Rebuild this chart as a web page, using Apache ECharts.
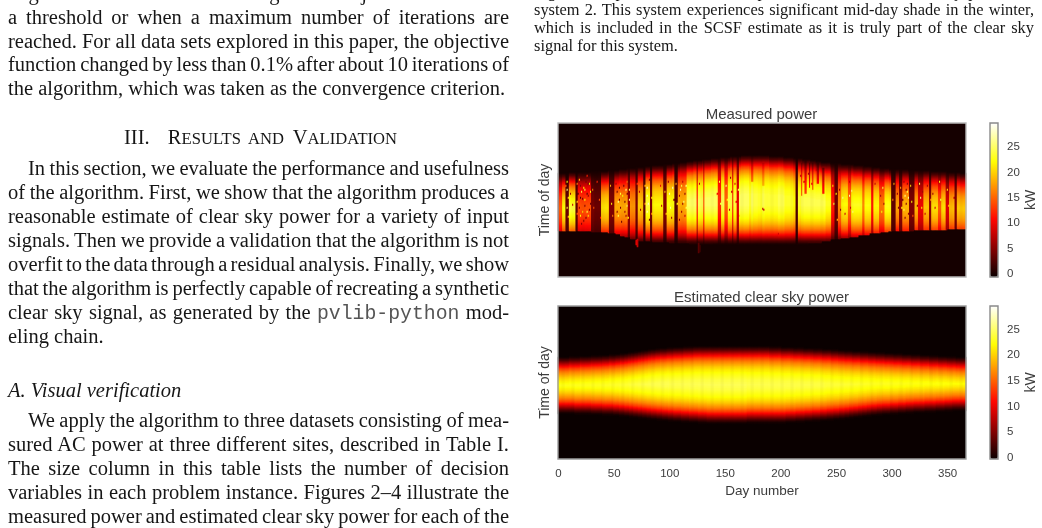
<!DOCTYPE html>
<html>
<head>
<meta charset="utf-8">
<title>Measured and estimated clear sky power</title>
<script src="https://cdn.jsdelivr.net/npm/echarts@6/dist/echarts.min.js"></script>
<style>
  html, body { margin: 0; padding: 0; background: #fff; overflow: hidden; }
  #page { position: relative; width: 1042px; height: 528px; overflow: hidden; }
  #chart { position: absolute; left: 0; top: 0; width: 1042px; height: 528px; }
  .ln { position: absolute; white-space: nowrap; color: #161616; font-family: "Liberation Serif", serif; }
  .body { font-size: 20.5px; line-height: 24px; height: 24px; left: 8px; }
  .cap { font-size: 16.4px; line-height: 18px; height: 18px; left: 534px; }
  code { font-family: "Liberation Mono", monospace; font-size: 19.8px; color: #555; }
  .sc { font-size: 16.6px; }
</style>
</head>
<body>
<div id="page">
  <div id="chart"></div>
</div>
<script>
// Axis layout of the two panels
const dayNumbers = Array.from({ length: 367 }, (_, d) => String(d));
const timeRows = Array.from({ length: 154 }, (_, r) => String(r));
const dayTickStep = 50;
const kwTicks = [0, 5, 10, 15, 20, 25];

// Sunrise and sunset rows: [first day the value holds, row]
const measuredRise = [[0,50],[10,49],[30,48],[45,47],[55,46],[62,45],[70,44],[78,43],[85,42],[95,41],[103,40],[110,39],[116,38],[122,37],[130,36],[138,35],[146,34],[155,33],[165,32],[190,33],[203,34],[212,35],[220,36],[227,37],[232,38],[237,39],[245,40],[255,41],[266,42],[275,43],[283,44],[290,45],[298,46],[315,47],[335,48],[350,49],[362,50]];
const measuredSet = [[0,121]];
// Last unshaded row before the horizon cuts the array off
const measuredHorizon = [[0,107],[30,108],[45,109],[52,110],[56,112],[60,113],[65,115],[72,117],[85,118],[100,119],[118,120],[140,121],[225,119],[237,117],[245,115],[254,114],[262,113],[270,111],[280,109],[290,108],[297,107],[320,106],[350,105]];
const measuredPeak = [[0,25],[60,25],[120,25],[180,24.5],[250,24],[300,24.5]];

const clearRise = [[0,51],[10,50.5],[20,50],[30,49.5],[40,49],[46,48.5],[52,48],[56,47.5],[60,47],[63,46.5],[66,46],[69,45.5],[72,45],[75,44.5],[78,44],[81,43.5],[84,43],[88,42.5],[92,42],[98,41.5],[104,41],[113,40.5],[122,40],[190,40.5],[201,41],[212,41.5],[221,42],[230,42.5],[238,43],[246,43.5],[252,44],[258,44.5],[265,45],[272,45.5],[279,46],[286,46.5],[294,47],[302,47.5],[310,48],[318,48.5],[326,49],[334,49.5],[342,50],[350,50.5],[358,51]];
const clearSet = [[0,107],[15,107.5],[30,108],[40,108.5],[50,109],[55,109.5],[60,110],[64,110.5],[68,111],[72,111.5],[76,112],[80,112.5],[84,113],[89,113.5],[94,114],[99,114.5],[104,115],[111,115.5],[118,116],[126,116.5],[134,117],[170,116.5],[205,116],[214,115.5],[222,115],[229,114.5],[236,114],[242,113.5],[248,113],[253,112.5],[258,112],[262,111.5],[266,111],[270,110.5],[274,110],[278,109.5],[282,109],[287,108.5],[292,108],[299,107.5],[306,107],[313,106.5],[320,106],[330,105.5],[340,105],[348,104.5],[355,104]];
const clearPeak = [[0,25],[100,24.8],[170,24.6],[240,24.4],[290,24.6],[340,24.8]];

// Share of the day's peak reached, per half row away from sunrise or sunset
const dayProfile = [0,.015,.03,.05,.07,.085,.1,.125,.15,.175,.2,.225,.25,.28,.31,.335,.36,.39,.42,.44,.46,.485,.51,.53,.55,.565,.58,.6,.62,.635,.65,.665,.68,.69,.7,.715,.73,.74,.75,.765,.78,.79,.8,.81,.82,.83,.84,.85,.86,.865,.87,.88,.89,.895,.9,.905,.91,.915,.92,.925,.93,.935,.94,.945,.95,.955,.96,.965,.97,.97,.97,.975,.98,.98,.98,.985,.99,.995,1];

// Overcast days: [from day, to day, share of clear output, optional first row, optional last row]
const cloudDays = [
  [0,1,.08],[1,4,.6],[4,7,.92],[7,10,.16],[10,16,.98],[16,18,.14],[18,30,.58],[30,33,.18],[33,39,.15],
  [39,46,.85],[46,51,.2],[51,63,.74],[63,65,.26],[65,70,.7],[70,72,.18],[72,77,.8],[77,79,.14],
  [79,83,.96],[83,85,.18],[85,95,.88],[95,98,.2],[98,105,.9],[105,108,.12],[108,116,.74],[116,125,1],
  [125,126,.45],[126,131,.98],[131,132,.55],[132,144,1],[144,147,.5],[147,150,.98],[150,153,.6],
  [153,157,.96],[157,158,.5],[158,161,.95],[161,163,.38],[163,172,1],[172,174,.94],[174,176,.72,30,58],
  [176,184,.96],[184,186,.82,40,62],[186,198,.97],[198,204,1],[204,212,.95],[212,214,.9],[214,216,.1],
  [216,219,.96],[219,220,.6,40,72],[222,224,.55,38,70],[226,227,.5,40,64],[229,230,.6,40,66],
  [233,235,.55,40,60],[238,240,.5,45,70],[241,246,.94],[246,249,.48],[249,252,.16],[252,255,.7],
  [255,261,.92],[261,264,.66],[264,274,.96],[274,276,.7],[276,282,.94],[282,284,.5],[284,289,.92],
  [289,294,.68],[294,300,.96],[300,304,.14],[304,307,.74],[307,310,.24],[310,316,.78],[316,321,.2],
  [321,324,.78],[324,329,.42],[329,334,.8],[334,336,.24],[336,342,.86],[342,345,.62],[345,349,.86],
  [349,352,.38],[352,357,.8],[357,359,.22],[359,367,.82]
];

// Single sample readings inside broken cloud: [day, row, kW]
const cloudSamples = [
  [8,58,22],[8,66,26],[9,74,20],[8,84,24],[9,93,18],[7,62,14],[11,70,6],[13,81,8],[17,60,16],[17,78,20],[17,90,14],
  [19,56,18],[20,62,5],[21,68,24],[22,75,4],[23,64,22],[24,82,5],[25,58,4],[26,88,24],[27,72,6],[28,60,20],[29,80,4],[20,92,22],[23,97,5],[26,52,12],
  [18,70,4],[19,84,6],[20,74,3],[21,56,4],[22,88,20],[24,66,24],[25,94,4],[26,70,3],[27,60,4],[28,86,5],[29,68,22],[21,100,5],[24,76,22],[27,92,20],
  [31,66,16],[32,84,14],[35,58,12],[37,76,14],[38,94,10],[47,62,18],[48,80,22],[49,92,16],
  [53,68,4],[54,78,26],[56,84,5],[54,92,24],[55,64,3],[58,72,22],[57,98,4],[60,88,6],[62,58,16],[62,70,5],[62,82,25],[63,94,22],[64,66,24],[64,76,26],[65,100,14],
  [52,60,6],[53,88,5],[55,76,5],[56,70,24],[59,62,4],[60,78,4],[61,66,26],[61,92,6],
  [71,60,12],[73,68,8],[74,86,6],[78,62,18],[78,80,16],[80,64,28],[80,72,28],[81,80,28],[80,88,28],[82,96,4],[82,56,6],[84,74,20],[84,90,16],
  [92,62,10],[93,82,8],[96,68,20],[97,90,18],[99,58,6],[100,70,28],[101,84,27],[102,94,6],[103,64,28],[104,76,5],[106,60,18],[107,80,22],[109,72,6],[110,66,27],[111,88,6],[112,58,8],[113,78,26],[114,92,8],[115,62,26],
  [109,96,5],[111,62,24],[112,80,6],[114,70,5],[115,84,24],
  [127,60,8],[143,70,10],[145,58,24],[146,80,24],[151,62,26],[152,76,22],[154,86,8],[155,54,6],[156,68,8],[159,60,9],[160,78,10],[162,66,24],[163,92,20],
  [184,85,8],[185,86,8],[198,110,9],[218,52,8],[221,58,9],[225,50,7],[228,60,10],[232,46,8],
  [247,62,20],[248,80,24],[250,70,22],[251,96,18],[253,66,6],[254,86,5],[256,74,26],[258,90,8],[262,58,8],[262,72,27],[263,84,8],[264,67,26],[265,88,26],
  [285,60,8],[290,72,7],[291,88,22],[292,64,24],[293,80,6],[301,76,16],[302,60,18],[305,70,6],[308,64,18],[309,84,22],[311,58,6],[312,72,26],[313,80,5],[314,68,24],[315,90,6],[317,62,20],[318,78,22],[319,92,14],
  [311,86,24],[313,66,5],[315,74,26],[312,94,5],[310,76,4],[314,60,6],[306,84,5],
  [322,56,8],[323,82,6],[325,60,24],[326,74,26],[327,84,22],[328,68,6],[330,90,8],[332,62,7],[335,76,16],[337,70,6],[339,84,8],[343,58,22],[344,76,24],[350,66,20],[351,82,18],[356,74,8]
];
// Short late afternoon streaks below the horizon line: [day, first row, last row, kW]
const lateStreaks = [[70,117,121,10],[71,116,123,8],[126,120,129,3],[127,122,128,2]];

const measuredRange = [-0.66, 29.8];
const clearRange = [-0.25, 29.55];

// Colour ramp running black, red, yellow, white at equal value steps
const hotRamp = ['#0b0000','#5e0000','#b20000','#ff0700','#ff5a00','#ffae00','#ffff04','#ffff82','#ffffff'];

const stepAt = (steps, day) => {
  let v = steps[0][1];
  for (const s of steps) { if (s[0] <= day) v = s[1]; else break; }
  return v;
};
const shareOfPeak = (rise, set, row) => {
  const dist = Math.min(row - rise, set - row);
  if (dist <= 0) return 0;
  return dayProfile[Math.min(Math.round(dist * 2), dayProfile.length - 1)];
};

// Clear sky estimate for every daylight cell
const clearCells = [];
dayNumbers.forEach((_, day) => {
  const rise = stepAt(clearRise, day), set = stepAt(clearSet, day), peak = stepAt(clearPeak, day);
  for (let row = Math.floor(rise); row <= Math.ceil(set); row++) {
    clearCells.push([day, row, peak * shareOfPeak(rise, set, row)]);
  }
});

// Measured output: clear sky day shape scaled by the cloud readings of that day
const sampleKey = (day, row) => day * 1000 + row;
const samples = new Map();
cloudSamples.forEach(([d, r, kw]) => { samples.set(sampleKey(d, r), kw); samples.set(sampleKey(d, r + 1), kw); });
const measuredCells = [];
dayNumbers.forEach((_, day) => {
  const rise = stepAt(measuredRise, day), set = stepAt(measuredSet, day);
  const horizon = stepAt(measuredHorizon, day), peak = stepAt(measuredPeak, day);
  const clouds = cloudDays.filter(c => c[0] <= day && day < c[1]);
  for (let row = rise; row <= horizon; row++) {
    let kw = peak * shareOfPeak(rise, set, row);
    clouds.forEach(c => {
      if (c[3] === undefined || (row >= c[3] && row <= c[4])) kw *= c[2];
    });
    const sample = samples.get(sampleKey(day, row));
    measuredCells.push([day, row, sample === undefined ? kw : sample]);
  }
});
lateStreaks.forEach(([d, r0, r1, kw]) => {
  for (let row = r0; row <= r1; row++) measuredCells.push([d, row, kw]);
});

const plotX = { left: 558, width: 408 };
const barX = { left: 990, width: 8 };
const panelTop = [123, 306];
const panelHeight = [154, 153];
const textColor = '#3d3d3d';
const sans = '"Liberation Sans", Arial, sans-serif';

function mapFor(seriesIndex, range, top, height) {
  return {
    type: 'continuous', seriesIndex, min: range[0], max: range[1], calculable: false, hoverLink: false,
    inRange: { color: hotRamp }, left: barX.left, top, itemWidth: barX.width, itemHeight: height,
    padding: 0, text: null, showLabel: false, realtime: false
  };
}
function outline(top, height, x, width, stroke) {
  return {
    type: 'rect', z: 100, silent: true,
    shape: { x, y: top, width, height },
    style: { fill: null, stroke, lineWidth: 1.4 }
  };
}

const option = {
  animation: false,
  backgroundColor: '#fff',
  title: [
    { text: 'Measured power', left: 761.5, top: 107, textAlign: 'center', padding: 0,
      textStyle: { fontFamily: sans, fontSize: 15, fontWeight: 'normal', color: textColor } },
    { text: 'Estimated clear sky power', left: 761.5, top: 290, textAlign: 'center', padding: 0,
      textStyle: { fontFamily: sans, fontSize: 15, fontWeight: 'normal', color: textColor } }
  ],
  grid: [
    { left: plotX.left, width: plotX.width, top: panelTop[0], height: panelHeight[0], show: true, backgroundColor: '#150000', borderWidth: 0 },
    { left: plotX.left, width: plotX.width, top: panelTop[1], height: panelHeight[1], show: true, backgroundColor: '#0a0000', borderWidth: 0 },
    { left: barX.left, width: barX.width, top: panelTop[0], height: panelHeight[0] },
    { left: barX.left, width: barX.width, top: panelTop[1], height: panelHeight[1] }
  ],
  xAxis: [
    { type: 'category', gridIndex: 0, data: dayNumbers, axisLine: { show: false }, axisTick: { show: false }, axisLabel: { show: false }, splitLine: { show: false } },
    { type: 'category', gridIndex: 1, data: dayNumbers, axisLine: { show: false }, axisTick: { show: false },
      axisLabel: { interval: (i) => i % dayTickStep === 0, margin: 9, fontFamily: sans, fontSize: 11.5, color: textColor, hideOverlap: false },
      name: 'Day number', nameLocation: 'middle', nameGap: 25,
      nameTextStyle: { fontFamily: sans, fontSize: 13.5, color: textColor }, splitLine: { show: false } },
    { type: 'value', gridIndex: 2, show: false },
    { type: 'value', gridIndex: 3, show: false }
  ],
  yAxis: [
    { type: 'category', gridIndex: 0, inverse: true, data: timeRows, axisLine: { show: false }, axisTick: { show: false }, axisLabel: { show: false },
      name: 'Time of day', nameLocation: 'middle', nameGap: 6, nameTextStyle: { fontFamily: sans, fontSize: 14, color: textColor } },
    { type: 'category', gridIndex: 1, inverse: true, data: timeRows.slice(0, panelHeight[1]), axisLine: { show: false }, axisTick: { show: false }, axisLabel: { show: false },
      name: 'Time of day', nameLocation: 'middle', nameGap: 6, nameTextStyle: { fontFamily: sans, fontSize: 14, color: textColor } },
    { type: 'value', gridIndex: 2, position: 'right', min: measuredRange[0], max: measuredRange[1], splitLine: { show: false }, axisLine: { show: false }, axisTick: { show: false },
      axisLabel: { customValues: kwTicks, margin: 9, fontFamily: sans, fontSize: 11.5, color: textColor },
      name: 'kW', nameLocation: 'middle', nameGap: 26, nameRotate: 90, nameTextStyle: { fontFamily: sans, fontSize: 14, color: textColor } },
    { type: 'value', gridIndex: 3, position: 'right', min: clearRange[0], max: clearRange[1], splitLine: { show: false }, axisLine: { show: false }, axisTick: { show: false },
      axisLabel: { customValues: kwTicks, margin: 9, fontFamily: sans, fontSize: 11.5, color: textColor },
      name: 'kW', nameLocation: 'middle', nameGap: 26, nameRotate: 90, nameTextStyle: { fontFamily: sans, fontSize: 14, color: textColor } }
  ],
  visualMap: [
    mapFor(0, measuredRange, panelTop[0], panelHeight[0]),
    mapFor(1, clearRange, panelTop[1], panelHeight[1])
  ],
  series: [
    { type: 'heatmap', xAxisIndex: 0, yAxisIndex: 0, data: measuredCells, progressive: 0, silent: true, itemStyle: { borderWidth: 0 } },
    { type: 'heatmap', xAxisIndex: 1, yAxisIndex: 1, data: clearCells, progressive: 0, silent: true, itemStyle: { borderWidth: 0 } }
  ],
  graphic: [
    outline(panelTop[0], panelHeight[0], plotX.left, plotX.width, '#b8b8b8'),
    outline(panelTop[1], panelHeight[1], plotX.left, plotX.width, '#9c9c9c'),
    outline(panelTop[0], panelHeight[0], barX.left, barX.width, '#8a8a8a'),
    outline(panelTop[1], panelHeight[1], barX.left, barX.width, '#8a8a8a')
  ]
};
echarts.init(document.getElementById('chart'), null, { renderer: 'canvas' }).setOption(option);

// Surrounding journal page text, one entry per typeset line: [centre y, text, justified, indent]
const bodyLines = [
  [-7, 'Algorithm iterates until the change in the objective falls below', true, 0],
  [17, 'a threshold or when a maximum number of iterations are', true, 0],
  [41, 'reached. For all data sets explored in this paper, the objective', true, 0],
  [64, 'function changed by less than 0.1% after about 10 iterations of', true, 0],
  [88, 'the algorithm, which was taken as the convergence criterion.', false, 0],
  [168, 'In this section, we evaluate the performance and usefulness', true, 20],
  [192, 'of the algorithm. First, we show that the algorithm produces a', true, 0],
  [216, 'reasonable estimate of clear sky power for a variety of input', true, 0],
  [240, 'signals. Then we provide a validation that the algorithm is not', true, 0],
  [264, 'overfit to the data through a residual analysis. Finally, we show', true, 0],
  [288, 'that the algorithm is perfectly capable of recreating a synthetic', true, 0],
  [312, 'clear sky signal, as generated by the <code>pvlib-python</code> mod-', true, 0],
  [336, 'eling chain.', false, 0],
  [420, 'We apply the algorithm to three datasets consisting of mea-', true, 20],
  [444, 'sured AC power at three different sites, described in Table I.', true, 0],
  [468, 'The size column in this table lists the number of decision', true, 0],
  [492, 'variables in each problem instance. Figures 2–4 illustrate the', true, 0],
  [516, 'measured power and estimated clear sky power for each of the', true, 0]
];
const captionLines = [
  [-8, 'Fig. 3. Comparison of measured power and estimated clear sky power for', true],
  [10, 'system 2. This system experiences significant mid-day shade in the winter,', true],
  [28, 'which is included in the SCSF estimate as it is truly part of the clear sky', true],
  [46, 'signal for this system.', false]
];
const bodyWidth = 501, captionWidth = 500;
const page = document.getElementById('page');

// Each line is stretched or tightened to the column width through its word spacing
function addLine(cls, html, centre, just, indent, lineH, columnWidth) {
  const d = document.createElement('div');
  d.className = 'ln ' + cls;
  d.style.top = (centre - lineH / 2) + 'px';
  if (indent) d.style.left = (8 + indent) + 'px';
  d.innerHTML = html;
  page.appendChild(d);
  if (just) {
    const gaps = d.textContent.split(' ').length - 1;
    const spare = columnWidth - indent - d.getBoundingClientRect().width;
    d.style.wordSpacing = (spare / gaps) + 'px';
  }
}
bodyLines.forEach(l => addLine('body', l[1], l[0], l[2], l[3], 24, bodyWidth));
captionLines.forEach(l => addLine('cap', l[1], l[0], l[2], 0, 18, captionWidth));

const heading = document.createElement('div');
heading.className = 'ln body';
heading.style.cssText = 'top:125px;left:124px;word-spacing:4px;';
heading.innerHTML = 'III.&nbsp; R<span class="sc">ESULTS AND</span> V<span class="sc">ALIDATION</span>';
page.appendChild(heading);

const sub = document.createElement('div');
sub.className = 'ln body';
sub.style.cssText = 'top:378px;font-style:italic;';
sub.textContent = 'A. Visual verification';
page.appendChild(sub);
</script>
</body>
</html>
